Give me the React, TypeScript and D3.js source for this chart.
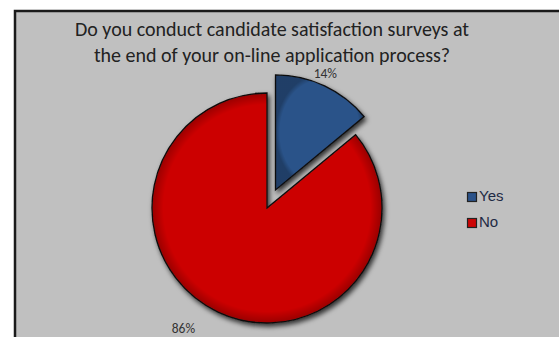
import React from "react";
import * as d3 from "d3";

const categories = ["Yes", "No"];
const values = [14, 86];
const labels = ["14%", "86%"];
const colors = ["#2b5289", "#cc0606"];
const explode = [20, 0];

const W = 559;
const H = 337;

export default function App() {
  const cx = 267;
  const cy = 208;
  const r = 115;
  const pie = d3.pie<number>().sort(null).value((d) => d)(values);
  const arc = d3.arc<d3.PieArcDatum<number>>().innerRadius(0).outerRadius(r);
  const labelAngleShift = [-0.03, 0.16];
  const labelRadius = [125, 148];

  return (
    <svg
      width={W}
      height={H}
      style={{ position: "absolute", left: 0, top: 0, display: "block" }}
      fontFamily="Carlito, 'Open Sans', sans-serif"
    >
      <defs>
        <filter id="sh" x="-30%" y="-30%" width="160%" height="160%">
          <feDropShadow dx="2" dy="3" stdDeviation="2.5" floodColor="#000" floodOpacity="0.75" />
        </filter>
        <radialGradient id="bev" cx="0.5" cy="0.5" r="0.5" gradientUnits="objectBoundingBox">
          <stop offset="0.9" stopColor="#000" stopOpacity="0" />
          <stop offset="1" stopColor="#000" stopOpacity="0.25" />
        </radialGradient>
      </defs>
      <rect x={0} y={0} width={W} height={H} fill="#ffffff" />
      <rect x={15} y={11} width={W + 20} height={H + 20} fill="#c0c0c0" stroke="#1a1a1a" strokeWidth={2.5} />
      <text textAnchor="middle" fontSize={20} fill="#222">
        <tspan x={272} y={36}>Do you conduct candidate satisfaction surveys at</tspan>
        <tspan x={272} y={62}>the end of your on-line application process?</tspan>
      </text>
      {pie.map((d, i) => {
        const mid = (d.startAngle + d.endAngle) / 2;
        const ox = Math.sin(mid) * explode[i];
        const oy = -Math.cos(mid) * explode[i];
        return (
          <g key={categories[i]} transform={`translate(${cx + ox},${cy + oy})`}>
            <path d={arc(d) || ""} fill={colors[i]} stroke="#111" strokeWidth={1.3} filter="url(#sh)" />
            <path d={arc(d) || ""} fill="url(#bev)" />
          </g>
        );
      })}
      {pie.map((d, i) => {
        const mid = (d.startAngle + d.endAngle) / 2 + labelAngleShift[i];
        const ox = Math.sin(mid) * labelRadius[i];
        const oy = -Math.cos(mid) * labelRadius[i];
        const ex = Math.sin((d.startAngle + d.endAngle) / 2) * explode[i];
        const ey = -Math.cos((d.startAngle + d.endAngle) / 2) * explode[i];
        return (
          <text
            key={"l" + i}
            x={cx + ex + ox}
            y={cy + ey + oy}
            textAnchor="middle"
            dominantBaseline="middle"
            fontSize={13.5}
            fill="#333"
          >
            {labels[i]}
          </text>
        );
      })}
      {categories.map((c, i) => (
        <g key={"lg" + c} transform={`translate(472,${197 + i * 26})`}>
          <rect x={-4.5} y={-4.5} width={9} height={9} fill={colors[i]} stroke="#222" strokeWidth={1.2} />
          <text x={7} y={0} dominantBaseline="middle" fontSize={15} fontFamily="'Liberation Sans', Arial, sans-serif" fill="#1e2a44">
            {c}
          </text>
        </g>
      ))}
    </svg>
  );
}
